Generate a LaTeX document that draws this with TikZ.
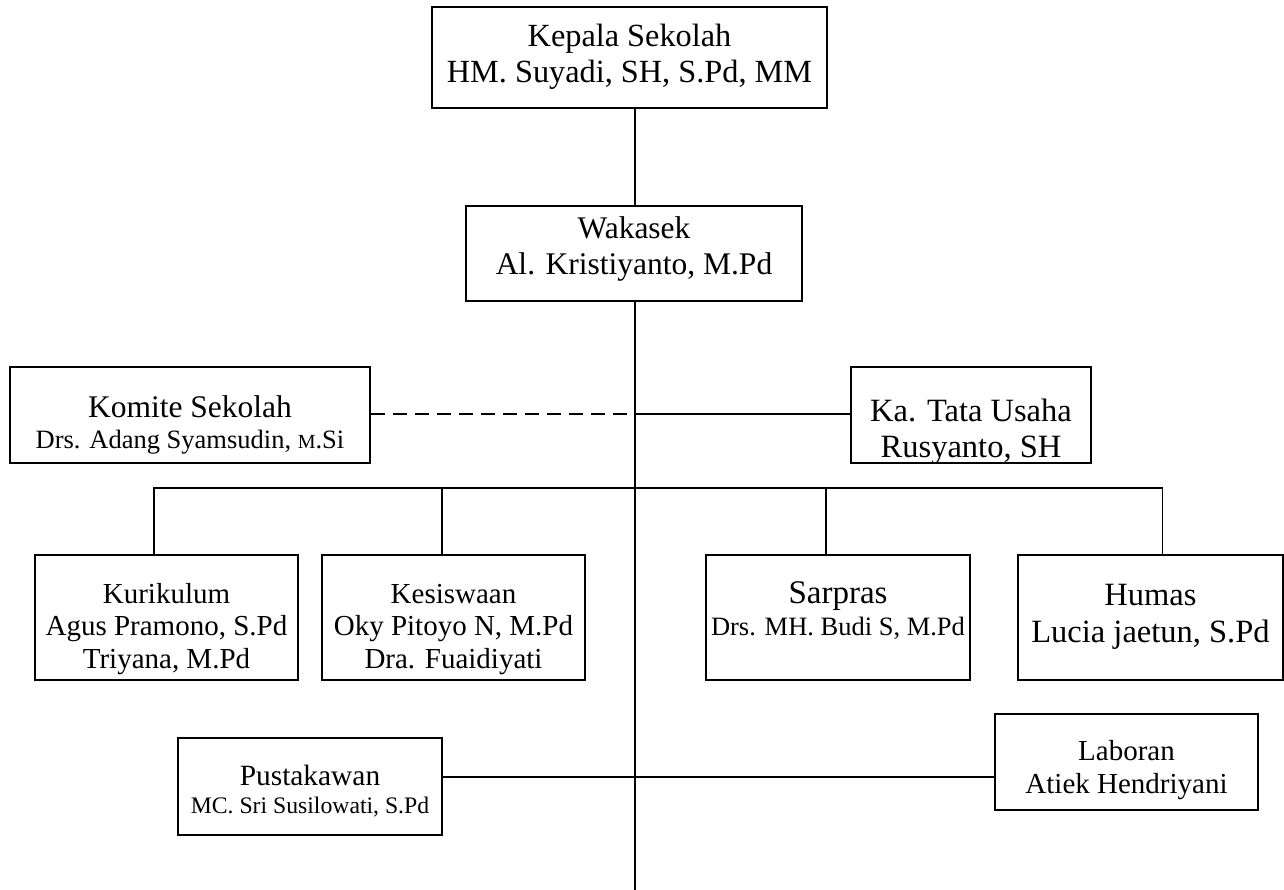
\documentclass[tikz,border=0pt]{standalone}
\usepackage{fontspec}
\setmainfont{Liberation Serif}
\newcommand\fs[2]{\fontsize{#1}{#2}\selectfont}
\begin{document}
\begin{tikzpicture}[x=1pt,y=-1pt,
  box/.style={draw,line width=1.8pt,align=center,inner sep=0pt},
  bx/.style n args={4}{box,minimum width=#1pt,text height=#2pt,text depth=#3pt,font=#4},
  ln/.style={line width=1.8pt}]
\useasboundingbox (0,0) rectangle (1284,890);
% box: width, (last baseline - top), (bottom - last baseline), font
\node[bx={395}{76}{25}{\fs{32.3}{36}}] (kepala) at (629.5,57.5) {Kepala Sekolah\\HM. Suyadi, SH, S.Pd, MM};
\node[bx={336}{69}{26}{\fs{31.5}{36}}] (wakasek) at (634,253.5) {Wakasek\\Al. Kristiyanto, M.Pd};
\node[bx={360}{81}{15}{\fs{31.5}{31}}] (komite) at (190,415) {Komite Sekolah\\{\fs{26.5}{31}Drs. Adang Syamsudin, {\fs{20}{24}M}.Si}};
\node[bx={240}{90}{6}{\fs{32.5}{36}}] (tu) at (971,415) {Ka. Tata Usaha\\Rusyanto, SH};
\node[bx={263}{113}{12}{\fs{29}{32.5}}] (kur) at (166.5,617.5) {Kurikulum\\Agus Pramono, S.Pd\\Triyana, M.Pd};
\node[bx={263}{113}{12}{\fs{29}{32.5}}] (kes) at (453.5,617.5) {Kesiswaan\\Oky Pitoyo N, M.Pd\\Dra. Fuaidiyati};
\node[bx={264}{80}{45}{\fs{33}{32}}] (sar) at (838,617.5) {Sarpras\\{\fs{26.5}{32}Drs. MH. Budi S, M.Pd}};
\node[bx={265}{87}{38}{\fs{32.5}{37}}] (hum) at (1150.5,617.5) {Humas\\Lucia jaetun, S.Pd};
\node[bx={264}{75}{22}{\fs{29.4}{28}}] (pus) at (310,786.5) {Pustakawan\\{\fs{23.7}{28}MC. Sri Susilowati, S.Pd}};
\node[bx={263}{79}{17}{\fs{29}{33}}] (lab) at (1126.5,762) {Laboran\\Atiek Hendriyani};
\coordinate (end) at (635,890);
\coordinate (m1) at (635,414);
\coordinate (m2) at (635,488);
\coordinate (m3) at (635,777);
\coordinate (dkur) at ([xshift=-12.5pt]kur.north);
\coordinate (dkes) at ([xshift=-11.5pt]kes.north);
\coordinate (dsar) at ([xshift=-12pt]sar.north);
\coordinate (dhum) at ([xshift=12pt]hum.north);
\draw[ln] (kepala.south -| m1) -- (wakasek.north -| m1);
\draw[ln] (wakasek.south -| m1) -- (end);
\draw[ln,dash pattern=on 14pt off 8pt] (komite.east |- m1) -- (m1);
\draw[ln] (m1) -- (tu.west |- m1);
\draw[ln] (dkur) -- (dkur |- m2) -- (dhum |- m2) -- (dhum);
\draw[ln] (dkes) -- (dkes |- m2);
\draw[ln] (dsar) -- (dsar |- m2);
\draw[ln] (pus.east |- m3) -- (lab.west |- m3);
\end{tikzpicture}
\end{document}
